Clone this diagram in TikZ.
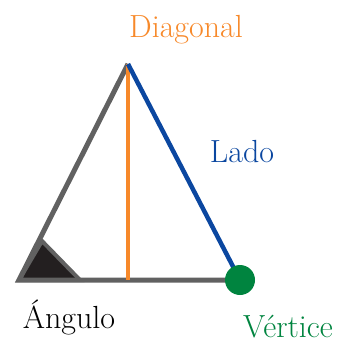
\documentclass[tikz,border=0pt]{standalone}
\usepackage{fontspec}
\definecolor{tgray}{HTML}{616161}
\definecolor{torange}{HTML}{F7892A}
\definecolor{tblue}{HTML}{0B47A0}
\definecolor{tgreen}{HTML}{00843F}
\definecolor{tdark}{HTML}{231F20}
\begin{document}
\begin{tikzpicture}[x=1pt,y=-1pt,
  lbl/.style={font=\fontsize{32}{36}\selectfont, inner sep=0pt},
  side/.style={line width=5pt, line join=miter}]
\useasboundingbox (0,0) rectangle (347,343);
\coordinate (A) at (128,64);
\coordinate (L) at (19,280);
\coordinate (R) at (240,280);
\coordinate (F) at (128,280);
\coordinate (K) at (42,241);
\coordinate (M) at (80,280);
% angle marker
\filldraw[fill=tdark, draw=tgray, line width=4pt, line join=miter] (L) -- (K) -- (M) -- cycle;
% gray sides
\draw[side, tgray] (R) -- (L) -- (A);
% diagonal
\draw[line width=4.5pt, torange] (A) -- (F);
% lado
\draw[line width=4.5pt, tblue] (A) -- (R);
% vertex
\fill[tgreen] (R) circle (15);
\node[lbl, text=torange] (diag) at (186,30) {Diagonal};
\node[lbl, text=tblue] (lado) at (242,152) {Lado};
\node[lbl, text=black] (ang) at (69,317) {Ángulo};
\node[lbl, text=tgreen] (vert) at (288,327) {Vértice};
\end{tikzpicture}
\end{document}
